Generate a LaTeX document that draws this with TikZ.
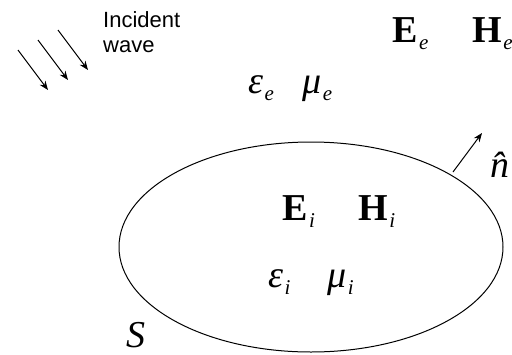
\documentclass[tikz,border=0pt]{standalone}
\usepackage{fontspec}
\setmainfont{Liberation Serif}
\newfontfamily\arialf{Liberation Sans}
\usetikzlibrary{arrows.meta}
\newcommand\subsc[1]{\kern1.5pt\raisebox{-7pt}{\fontsize{21}{21}\selectfont\itshape #1}}
\tikzset{
  lbl/.style={inner sep=0pt, anchor=base west},
  bigsym/.style={lbl, font=\fontsize{38}{40}\selectfont},
  wavetext/.style={lbl, font=\arialf\fontsize{22}{24}\selectfont},
  wavearrow/.style={line width=1pt, -{Stealth[length=9pt,width=7pt]}},
}
\begin{document}
\begin{tikzpicture}[x=1pt,y=-1pt]
\useasboundingbox (0,0) rectangle (512,354);
% surface
\draw[line width=1pt] (311,247) ellipse [x radius=192, y radius=105];
% incident wave
\coordinate (a1s) at (18,50); \coordinate (a1e) at (48,90);
\coordinate (a2s) at (38,40); \coordinate (a2e) at (68,80);
\coordinate (a3s) at (58,30); \coordinate (a3e) at (88,70);
\draw[wavearrow] (a1s) -- (a1e);
\draw[wavearrow] (a2s) -- (a2e);
\draw[wavearrow] (a3s) -- (a3e);
\node[wavetext] (inc) at (103,27) {Incident};
\node[wavetext] (wave) at (103,52) {wave};
% normal
\coordinate (ns) at (453,172); \coordinate (ne) at (482,133);
\draw[wavearrow] (ns) -- (ne);
\node[bigsym] (nhat) at (490,177) {\itshape\^{n}};
% exterior
\node[bigsym] (Ee) at (392,42) {\textbf{E}\subsc{e}};
\node[bigsym] (He) at (472,42) {\textbf{H}\subsc{e}};
\node[bigsym] (epse) at (248,93) {\itshape ε\subsc{e}};
\node[bigsym] (mue) at (302,93) {\itshape μ\subsc{e}};
% interior
\node[bigsym] (Ei) at (282,220) {\textbf{E}\subsc{i}};
\node[bigsym] (Hi) at (358,220) {\textbf{H}\subsc{i}};
\node[bigsym] (epsi) at (268,287) {\itshape ε\subsc{i}};
\node[bigsym] (mui) at (327,287) {\itshape μ\subsc{i}};
\node[bigsym] (S) at (126,347) {\itshape S};
\end{tikzpicture}
\end{document}
